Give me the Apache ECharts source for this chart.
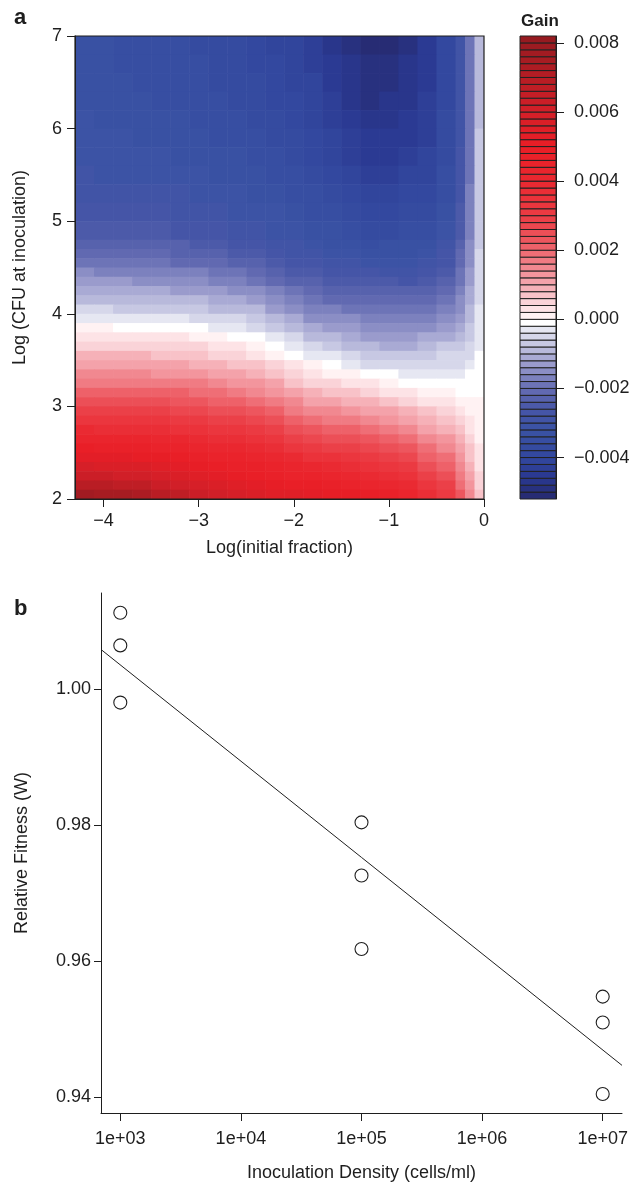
<!DOCTYPE html>
<html>
<head>
<meta charset="utf-8">
<title>Gain surface and relative fitness</title>
<script src="https://cdn.jsdelivr.net/npm/echarts@6.0.0/dist/echarts.min.js"></script>
<style>
  html, body { margin: 0; padding: 0; background: #fff; }
  #chart { width: 633px; height: 1183px; }
</style>
</head>
<body>
<div id="chart"></div>
<script>
// ---- panel a: gain surface, cell edges and gain per cell (units of 1e-3) ----
const fractionEdges = [-4.3,-4.1,-3.9,-3.7,-3.5,-3.3,-3.1,-2.9,-2.7,-2.5,-2.3,-2.1,-1.9,-1.7,-1.5,-1.3,-1.1,-0.9,-0.7,-0.5,-0.3,-0.2,-0.1,0]
// top to bottom
const cfuEdges = [7.0,6.8,6.6,6.4,6.2,6.0,5.8,5.6,5.4,5.2,5.0,4.8,4.7,4.6,4.5,4.4,4.3,4.2,4.1,4.0,3.9,3.8,3.7,3.6,3.5,3.4,3.3,3.2,3.1,3.0,2.9,2.8,2.7,2.6,2.5,2.4,2.3,2.2,2.1,2.0]
const gainRows = [
  [-3.35,-3.40,-3.45,-3.50,-3.54,-3.58,-3.62,-3.68,-3.77,-3.88,-4.03,-4.18,-4.35,-4.62,-4.90,-5.12,-5.04,-4.85,-4.48,-3.90,-2.95,-2.00,-0.85],
  [-3.33,-3.38,-3.42,-3.47,-3.51,-3.55,-3.60,-3.67,-3.75,-3.83,-3.97,-4.12,-4.27,-4.55,-4.78,-4.98,-4.93,-4.80,-4.46,-3.88,-2.94,-2.00,-0.85],
  [-3.30,-3.34,-3.39,-3.43,-3.47,-3.52,-3.56,-3.63,-3.70,-3.77,-3.90,-4.04,-4.18,-4.46,-4.70,-4.90,-4.86,-4.74,-4.43,-3.86,-2.92,-1.98,-0.84],
  [-3.25,-3.29,-3.34,-3.38,-3.42,-3.46,-3.50,-3.57,-3.63,-3.70,-3.83,-3.96,-4.10,-4.37,-4.62,-4.83,-4.78,-4.66,-4.38,-3.83,-2.90,-1.96,-0.83],
  [-3.18,-3.22,-3.26,-3.30,-3.35,-3.39,-3.44,-3.50,-3.56,-3.62,-3.75,-3.88,-4.02,-4.27,-4.52,-4.73,-4.68,-4.56,-4.32,-3.79,-2.87,-1.94,-0.82],
  [-3.12,-3.15,-3.19,-3.22,-3.27,-3.31,-3.36,-3.42,-3.48,-3.54,-3.66,-3.80,-3.93,-4.16,-4.40,-4.60,-4.56,-4.45,-4.24,-3.74,-2.83,-1.91,-0.80],
  [-3.06,-3.09,-3.11,-3.14,-3.18,-3.23,-3.27,-3.33,-3.39,-3.45,-3.57,-3.70,-3.82,-4.04,-4.26,-4.45,-4.41,-4.32,-4.14,-3.67,-2.78,-1.88,-0.78],
  [-3.00,-3.02,-3.03,-3.05,-3.09,-3.13,-3.17,-3.23,-3.29,-3.35,-3.47,-3.58,-3.70,-3.90,-4.10,-4.30,-4.26,-4.17,-4.02,-3.58,-2.72,-1.83,-0.76],
  [-2.85,-2.87,-2.90,-2.92,-2.96,-3.00,-3.05,-3.11,-3.16,-3.22,-3.34,-3.46,-3.58,-3.75,-3.93,-4.10,-4.07,-4.00,-3.87,-3.46,-2.64,-1.77,-0.73],
  [-2.70,-2.72,-2.74,-2.76,-2.80,-2.85,-2.90,-2.96,-3.02,-3.08,-3.20,-3.31,-3.43,-3.59,-3.75,-3.90,-3.87,-3.80,-3.68,-3.30,-2.54,-1.70,-0.70],
  [-2.48,-2.50,-2.53,-2.55,-2.59,-2.64,-2.68,-2.75,-2.82,-2.90,-3.02,-3.15,-3.27,-3.40,-3.53,-3.65,-3.62,-3.57,-3.45,-3.10,-2.42,-1.62,-0.66],
  [-2.25,-2.27,-2.30,-2.32,-2.36,-2.40,-2.45,-2.53,-2.62,-2.70,-2.83,-2.97,-3.10,-3.21,-3.32,-3.42,-3.40,-3.38,-3.25,-2.92,-2.30,-1.54,-0.62],
  [-2.10,-2.12,-2.13,-2.15,-2.18,-2.21,-2.25,-2.34,-2.43,-2.52,-2.66,-2.81,-2.95,-3.05,-3.15,-3.25,-3.24,-3.22,-3.10,-2.78,-2.20,-1.48,-0.60],
  [-1.88,-1.90,-1.91,-1.93,-1.97,-2.01,-2.05,-2.14,-2.23,-2.32,-2.47,-2.63,-2.78,-2.86,-2.95,-3.03,-3.03,-3.03,-2.92,-2.62,-2.10,-1.41,-0.57],
  [-1.60,-1.62,-1.65,-1.67,-1.71,-1.75,-1.80,-1.90,-2.00,-2.10,-2.27,-2.43,-2.60,-2.67,-2.74,-2.80,-2.82,-2.83,-2.73,-2.44,-1.98,-1.33,-0.53],
  [-1.35,-1.37,-1.40,-1.42,-1.45,-1.48,-1.52,-1.63,-1.74,-1.85,-2.03,-2.22,-2.40,-2.46,-2.52,-2.57,-2.60,-2.62,-2.53,-2.25,-1.85,-1.25,-0.50],
  [-1.10,-1.12,-1.14,-1.16,-1.19,-1.22,-1.26,-1.37,-1.47,-1.58,-1.78,-1.98,-2.18,-2.24,-2.30,-2.35,-2.38,-2.40,-2.32,-2.05,-1.72,-1.16,-0.46],
  [-0.85,-0.87,-0.88,-0.90,-0.93,-0.96,-1.00,-1.10,-1.20,-1.30,-1.52,-1.73,-1.95,-2.01,-2.07,-2.12,-2.15,-2.18,-2.10,-1.85,-1.58,-1.06,-0.42],
  [-0.58,-0.59,-0.61,-0.62,-0.65,-0.68,-0.72,-0.81,-0.90,-1.00,-1.23,-1.47,-1.70,-1.77,-1.84,-1.90,-1.92,-1.95,-1.88,-1.65,-1.43,-0.96,-0.38],
  [-0.26,-0.28,-0.30,-0.32,-0.35,-0.38,-0.42,-0.51,-0.60,-0.70,-0.94,-1.18,-1.42,-1.51,-1.60,-1.68,-1.70,-1.72,-1.65,-1.45,-1.28,-0.86,-0.34],
  [0.03,0.01,-0.01,-0.02,-0.05,-0.09,-0.13,-0.22,-0.32,-0.42,-0.65,-0.89,-1.12,-1.24,-1.36,-1.47,-1.48,-1.50,-1.42,-1.24,-1.12,-0.75,-0.30],
  [0.30,0.29,0.29,0.28,0.24,0.20,0.15,0.06,-0.04,-0.14,-0.37,-0.60,-0.82,-0.97,-1.12,-1.25,-1.26,-1.27,-1.18,-1.02,-0.95,-0.64,-0.26],
  [0.55,0.55,0.55,0.55,0.51,0.47,0.42,0.32,0.22,0.12,-0.09,-0.31,-0.52,-0.68,-0.85,-1.00,-1.02,-1.02,-0.90,-0.80,-0.78,-0.52,-0.21],
  [0.80,0.80,0.80,0.80,0.77,0.73,0.70,0.59,0.48,0.38,0.17,-0.04,-0.24,-0.40,-0.56,-0.72,-0.74,-0.77,-0.66,-0.60,-0.60,-0.41,-0.17],
  [1.05,1.06,1.07,1.08,1.05,1.02,0.98,0.87,0.76,0.65,0.44,0.24,0.03,-0.12,-0.27,-0.42,-0.46,-0.50,-0.45,-0.42,-0.44,-0.30,-0.13],
  [1.40,1.40,1.40,1.40,1.36,1.32,1.28,1.17,1.06,0.95,0.73,0.50,0.28,0.15,0.02,-0.10,-0.17,-0.25,-0.24,-0.26,-0.30,-0.20,-0.09],
  [1.70,1.71,1.72,1.72,1.68,1.64,1.60,1.48,1.37,1.25,1.02,0.78,0.55,0.43,0.31,0.20,0.08,-0.05,-0.07,-0.12,-0.17,-0.12,-0.05],
  [2.10,2.10,2.10,2.10,2.05,2.00,1.95,1.83,1.70,1.58,1.34,1.09,0.85,0.73,0.61,0.50,0.38,0.25,0.10,0.00,-0.06,-0.04,-0.02],
  [2.50,2.50,2.50,2.50,2.44,2.37,2.30,2.17,2.05,1.92,1.67,1.42,1.17,1.05,0.94,0.82,0.69,0.55,0.35,0.20,0.08,0.04,0.02],
  [2.90,2.90,2.90,2.90,2.83,2.77,2.70,2.57,2.43,2.30,2.04,1.78,1.52,1.40,1.27,1.15,1.00,0.85,0.60,0.42,0.22,0.12,0.05],
  [3.30,3.30,3.30,3.30,3.23,3.17,3.10,2.96,2.82,2.68,2.42,2.16,1.90,1.77,1.63,1.50,1.33,1.15,0.88,0.66,0.40,0.22,0.09],
  [3.80,3.78,3.77,3.75,3.67,3.58,3.50,3.35,3.20,3.05,2.80,2.55,2.30,2.16,2.01,1.87,1.69,1.50,1.18,0.92,0.60,0.34,0.13],
  [4.20,4.20,4.20,4.20,4.10,4.00,3.90,3.75,3.60,3.45,3.21,2.96,2.72,2.56,2.41,2.25,2.05,1.85,1.48,1.20,0.80,0.46,0.18],
  [4.80,4.77,4.73,4.70,4.57,4.43,4.30,4.15,4.00,3.85,3.62,3.38,3.15,2.98,2.82,2.65,2.42,2.20,1.80,1.50,1.00,0.60,0.23],
  [5.30,5.25,5.20,5.15,5.00,4.85,4.70,4.55,4.40,4.25,4.03,3.80,3.58,3.40,3.23,3.05,2.82,2.60,2.13,1.80,1.20,0.75,0.29],
  [5.80,5.73,5.67,5.60,5.42,5.23,5.05,4.90,4.75,4.60,4.40,4.20,4.00,3.82,3.63,3.45,3.22,3.00,2.48,2.12,1.45,0.92,0.36],
  [6.30,6.22,6.13,6.05,5.83,5.62,5.40,5.25,5.10,4.95,4.77,4.58,4.40,4.22,4.03,3.85,3.62,3.40,2.83,2.45,1.70,1.10,0.44],
  [6.90,6.80,6.70,6.60,6.33,6.07,5.80,5.63,5.47,5.30,5.13,4.97,4.80,4.65,4.50,4.35,4.10,3.85,3.20,2.80,1.95,1.30,0.53],
  [7.70,7.57,7.43,7.30,6.97,6.63,6.30,6.10,5.90,5.70,5.55,5.40,5.25,5.15,5.05,4.95,4.65,4.30,3.60,3.15,2.25,1.55,0.64]
]
// contour levels of the colour key (units of 1e-3)
const gainBreaks = [-5.2,-5.0,-4.8,-4.6,-4.4,-4.2,-4.0,-3.8,-3.6,-3.4,-3.2,-3.0,-2.8,-2.6,-2.4,-2.2,-2.0,-1.8,-1.6,-1.4,-1.2,-1.0,-0.8,-0.6,-0.4,-0.2,0,0.2,0.4,0.6,0.8,1.0,1.2,1.4,1.6,1.8,2.0,2.2,2.4,2.6,2.8,3.0,3.2,3.4,3.6,3.8,4.0,4.2,4.4,4.6,4.8,5.0,5.2,5.4,5.6,5.8,6.0,6.2,6.4,6.6,6.8,7.0,7.2,7.4,7.6,7.8,8.0,8.2]
const fractionTicks = [-4, -3, -2, -1, 0]
const gainTicks = [-4, -2, 0, 2, 4, 6, 8]

// ---- panel b: relative fitness ----
const densities = [1e3, 1e3, 1e3, 1e5, 1e5, 1e5, 1e7, 1e7, 1e7]
const fitness = [1.0112, 1.0064, 0.9980, 0.9804, 0.9726, 0.9618, 0.9548, 0.9510, 0.9405]
const fitLogDensity = [2.84, 7.16]
const fitFitness = [1.0058, 0.9447]
const densityTicks = [3, 4, 5, 6, 7]
const fitnessTicks = [0.94, 0.96, 0.98, 1.00]

const FONT = "'Liberation Sans', Arial, Helvetica, sans-serif"
const INK = '#1e1e1e'
const FS = 18

// colour ramp of the key: dark blue -> white -> red -> dark red
const rampStops = [
  [-5.2, '#262a6e'], [-4.6, '#2a3891'], [-4.0, '#32479e'], [-3.2, '#3a52a4'],
  [-2.6, '#4756a7'], [-2.0, '#666db3'], [-1.4, '#9294c8'], [-0.8, '#bfc0df'],
  [-0.3, '#e6e7f2'], [-0.1, '#ffffff'], [0.1, '#fff2f3'], [0.5, '#fad3d8'],
  [1.0, '#f5a9b0'], [1.6, '#f08189'], [2.2, '#ed5a62'], [3.0, '#eb3c44'],
  [4.0, '#ea2830'], [5.0, '#e91e26'], [6.0, '#d41f28'], [7.0, '#b61d24'], [8.2, '#931a20']
]
function hexRgb(h){
  return [parseInt(h.slice(1,3),16), parseInt(h.slice(3,5),16), parseInt(h.slice(5,7),16)]
}
function rampColor(v){
  if(v <= rampStops[0][0]) return rampStops[0][1]
  for(let i = 1; i < rampStops.length; i++){
    if(v <= rampStops[i][0]){
      const t = (v - rampStops[i-1][0]) / (rampStops[i][0] - rampStops[i-1][0])
      const a = hexRgb(rampStops[i-1][1]), b = hexRgb(rampStops[i][1])
      const c = a.map((x, k) => Math.round(x + (b[k] - x) * t))
      return 'rgb(' + c.join(',') + ')'
    }
  }
  return rampStops[rampStops.length-1][1]
}
// colour of the contour band that holds v
function bandColor(v){
  for(let i = 0; i < gainBreaks.length - 1; i++){
    if(v < gainBreaks[i+1]) return rampColor((gainBreaks[i] + gainBreaks[i+1]) / 2)
  }
  return rampColor(8.1)
}
function minus(s){ return String(s).replace('-', '\u2212') }

const cells = []
gainRows.forEach((row, i) => {
  row.forEach((g, j) => {
    cells.push([fractionEdges[j], fractionEdges[j+1], cfuEdges[i+1], cfuEdges[i], g])
  })
})
const bands = gainBreaks.slice(0, -1).map((lo, i) => [lo, gainBreaks[i+1]])
const points = densities.map((d, i) => [Math.log10(d), fitness[i]])
const fitLine = fitLogDensity.map((x, i) => [x, fitFitness[i]])
// plot box of panel a, in data units
const frameA = [[fractionEdges[0], fractionEdges[fractionEdges.length-1], cfuEdges[cfuEdges.length-1], cfuEdges[0]]]

const labelStyle = { color: INK, fontFamily: FONT }
const lineStyle = { show: true, onZero: false, lineStyle: { color: INK, width: 1 } }
const chart = echarts.init(document.getElementById('chart'), null, { renderer: 'canvas' })

const option = {
  backgroundColor: '#fff',
  animation: false,
  textStyle: { fontFamily: FONT, color: INK },
  title: [
    { text: 'a', left: 9, top: 2, textStyle: { fontSize: 22, fontWeight: 'bold', color: INK, fontFamily: FONT } },
    { text: 'b', left: 9, top: 593, textStyle: { fontSize: 22, fontWeight: 'bold', color: INK, fontFamily: FONT } },
    { text: 'Gain', left: 516, top: 8, textStyle: { fontSize: 17, fontWeight: 'bold', color: INK, fontFamily: FONT } }
  ],
  grid: [
    { left: 75, top: 36, width: 409, height: 463, outerBoundsMode: 'none' },
    { left: 520, top: 36, width: 36, height: 463, outerBoundsMode: 'none' },
    { left: 101, top: 593, width: 521, height: 520, outerBoundsMode: 'none' }
  ],
  xAxis: [
    {
      gridIndex: 0, type: 'value', min: -4.3, max: 0, z: 10,
      name: 'Log(initial fraction)', nameLocation: 'middle', nameGap: 40,
      nameTextStyle: { fontSize: FS, color: INK, fontFamily: FONT },
      axisLine: lineStyle,
      axisTick: { show: true, length: 8, customValues: fractionTicks, lineStyle: { color: INK } },
      axisLabel: { customValues: fractionTicks, margin: 13, fontSize: FS, formatter: v => minus(v), ...labelStyle },
      splitLine: { show: false }
    },
    {
      gridIndex: 1, type: 'value', min: 0, max: 1, show: false
    },
    {
      gridIndex: 2, type: 'value', min: 2.84, max: 7.16, z: 10,
      name: 'Inoculation Density (cells/ml)', nameLocation: 'middle', nameGap: 51,
      nameTextStyle: { fontSize: FS, color: INK, fontFamily: FONT },
      axisLine: lineStyle,
      axisTick: { show: true, length: 8, customValues: densityTicks, lineStyle: { color: INK } },
      axisLabel: { customValues: densityTicks, margin: 17, fontSize: FS, formatter: v => '1e+0' + v, ...labelStyle },
      splitLine: { show: false }
    }
  ],
  yAxis: [
    {
      gridIndex: 0, type: 'value', min: 2, max: 7, interval: 1, z: 10,
      name: 'Log (CFU at inoculation)', nameLocation: 'middle', nameGap: 46,
      nameTextStyle: { fontSize: FS, color: INK, fontFamily: FONT },
      axisLine: lineStyle,
      axisTick: { show: true, length: 8, lineStyle: { color: INK } },
      axisLabel: { margin: 13, fontSize: FS, ...labelStyle },
      splitLine: { show: false }
    },
    {
      gridIndex: 1, type: 'value', min: -5.2, max: 8.2, position: 'right', z: 10,
      axisLine: lineStyle,
      axisTick: { show: true, length: 8, customValues: gainTicks, lineStyle: { color: INK } },
      axisLabel: { customValues: gainTicks, margin: 18, fontSize: FS, formatter: v => minus((v / 1000).toFixed(3)), ...labelStyle },
      splitLine: { show: false }
    },
    {
      gridIndex: 2, type: 'value', min: 0.9377, max: 1.0141, z: 10,
      name: 'Relative Fitness (W)', nameLocation: 'middle', nameGap: 70,
      nameTextStyle: { fontSize: FS, color: INK, fontFamily: FONT },
      axisLine: lineStyle,
      axisTick: { show: true, length: 7, customValues: fitnessTicks, lineStyle: { color: INK } },
      axisLabel: { customValues: fitnessTicks, margin: 10, fontSize: FS, formatter: v => v.toFixed(2), ...labelStyle },
      splitLine: { show: false }
    }
  ],
  series: [
    {
      // filled contour cells
      type: 'custom', xAxisIndex: 0, yAxisIndex: 0, clip: true, silent: true,
      data: cells,
      renderItem(params, api){
        const p0 = api.coord([api.value(0), api.value(3)])
        const p1 = api.coord([api.value(1), api.value(2)])
        return {
          type: 'rect',
          shape: { x: p0[0], y: p0[1], width: p1[0] - p0[0] + 0.6, height: p1[1] - p0[1] + 0.6 },
          style: { fill: bandColor(api.value(4)) }
        }
      }
    },
    {
      // box round panel a
      type: 'custom', xAxisIndex: 0, yAxisIndex: 0, silent: true, z: 5,
      data: frameA,
      renderItem(params, api){
        const p0 = api.coord([api.value(0), api.value(3)])
        const p1 = api.coord([api.value(1), api.value(2)])
        return {
          type: 'rect',
          shape: { x: p0[0], y: p0[1], width: p1[0] - p0[0], height: p1[1] - p0[1] },
          style: { fill: 'none', stroke: INK, lineWidth: 1.2 }
        }
      }
    },
    {
      // colour key
      type: 'custom', xAxisIndex: 1, yAxisIndex: 1, silent: true,
      data: bands,
      renderItem(params, api){
        const lo = api.value(0), hi = api.value(1)
        const p0 = api.coord([0, hi])
        const p1 = api.coord([1, lo])
        return {
          type: 'rect',
          shape: { x: p0[0], y: p0[1], width: p1[0] - p0[0], height: p1[1] - p0[1] },
          style: { fill: bandColor((lo + hi) / 2), stroke: '#222', lineWidth: 1 }
        }
      }
    },
    {
      type: 'line', xAxisIndex: 2, yAxisIndex: 2, data: fitLine,
      symbol: 'none', lineStyle: { color: INK, width: 1 }, silent: true
    },
    {
      type: 'scatter', xAxisIndex: 2, yAxisIndex: 2, data: points,
      symbol: 'circle', symbolSize: 13,
      itemStyle: { color: '#fff', borderColor: INK, borderWidth: 1.1, opacity: 1 }
    }
  ]
}
chart.setOption(option)
</script>
</body>
</html>
